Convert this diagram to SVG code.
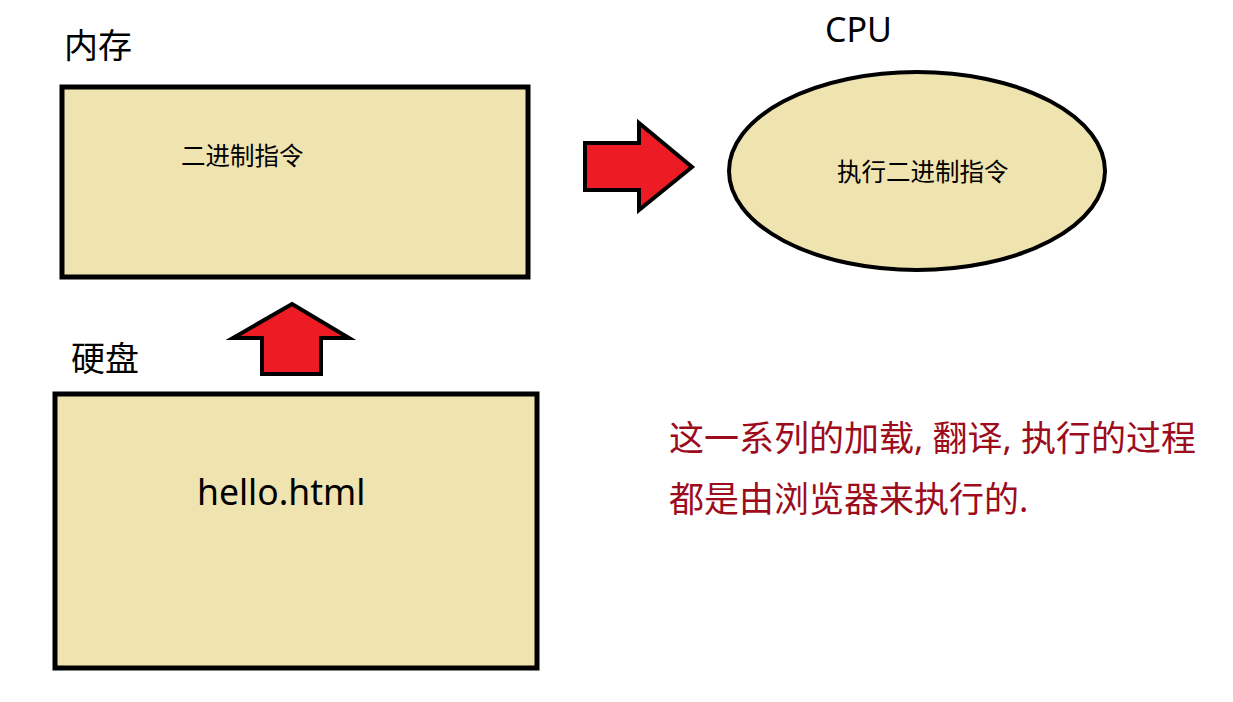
<svg xmlns="http://www.w3.org/2000/svg" width="1233" height="702" viewBox="0 0 1233 702">
<style>
.box{fill:#EFE4B0;stroke:#000;stroke-width:5}
.ell{fill:#EFE4B0;stroke:#000;stroke-width:4}
.arrow{fill:#ED1C24;stroke:#000;stroke-width:4;stroke-linejoin:miter}
.lbl{font-family:"Noto Sans","Noto Sans CJK SC",sans-serif;font-size:34px;fill:#000}
.inner{font-family:"Noto Sans CJK SC",serif;font-size:24.5px;fill:#000}
.note{font-family:"Noto Sans","Noto Sans CJK SC",sans-serif;font-size:35px;fill:#9c0c1c}
</style>
<rect width="1233" height="702" fill="#fff"/>
<g id="memory">
<text class="lbl" x="64" y="58">内存</text>
<rect class="box" x="62" y="87" width="466" height="190"/>
<text class="inner" x="181" y="165">二进制指令</text>
</g>
<g id="cpu">
<text class="lbl" x="825" y="42">CPU</text>
<ellipse class="ell" cx="917" cy="171" rx="188" ry="99"/>
<text class="inner" x="837" y="181">执行二进制指令</text>
</g>
<g id="disk">
<text class="lbl" x="71" y="371">硬盘</text>
<rect class="box" x="55" y="394" width="482" height="274"/>
<text class="lbl" x="197" y="505" style="font-size:35.5px">hello.html</text>
</g>
<g id="connectors">
<path class="arrow" d="M585 143 H639 V123 L692 167 L639 210 V190 H585 Z"/>
<path class="arrow" d="M292 304 L349 338 H321 V374 H262 V338 H233 Z"/>
</g>
<g id="note">
<text class="note" x="669" y="451">这一系列的加载, 翻译, 执行的过程</text>
<text class="note" x="669" y="512">都是由浏览器来执行的.</text>
</g>
</svg>
